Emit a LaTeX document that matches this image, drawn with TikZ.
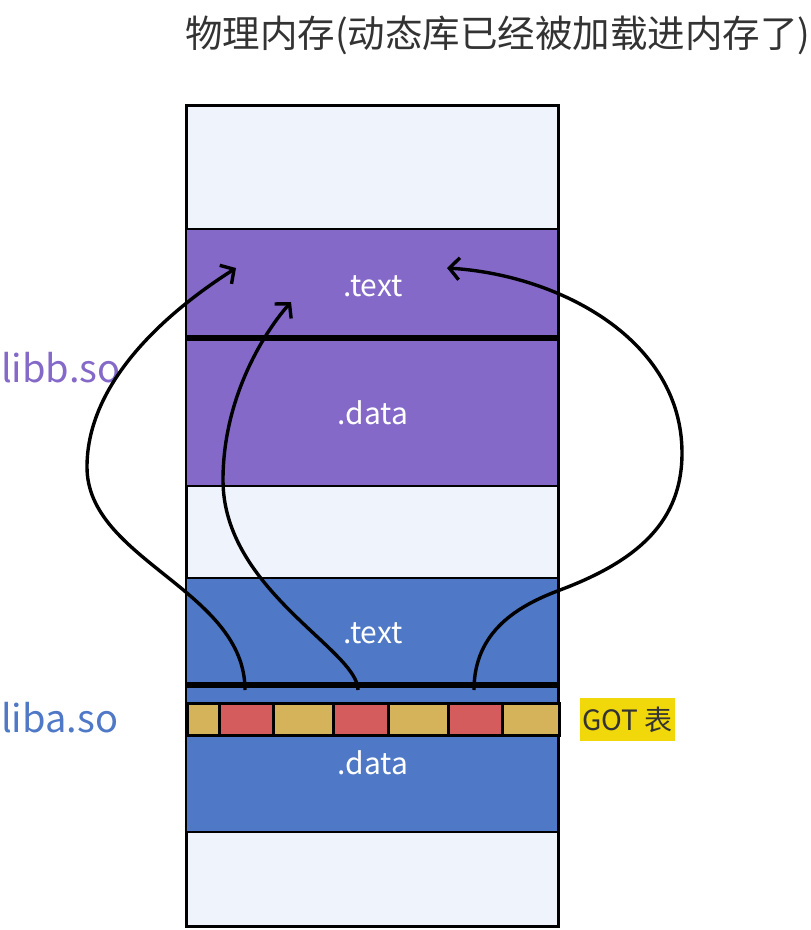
\documentclass[tikz,border=0pt]{standalone}
\usepackage{fontspec}
\setmainfont{Noto Sans CJK SC}
\usetikzlibrary{arrows.meta}
\definecolor{bgmem}{HTML}{EEF3FC}
\definecolor{libbc}{HTML}{8469C9}
\definecolor{libac}{HTML}{4F78C6}
\definecolor{gotY}{HTML}{D4B35A}
\definecolor{gotR}{HTML}{D45C5C}
\definecolor{lblY}{HTML}{F1D80A}
\definecolor{txtD}{HTML}{333333}
\tikzset{
  seg/.style={line width=2.5pt, draw=black},
  sep/.style={line width=6.5pt, draw=black},
  secname/.style={text=white, font=\fontsize{30}{34}\selectfont, inner sep=0pt},
  libname/.style={font=\fontsize{38}{42}\selectfont, inner sep=0pt, anchor=west},
  gotcell/.style={draw=black, line width=3pt, minimum height=32pt, inner sep=0pt, anchor=north west},
  link/.style={line width=3.4pt, -{Straight Barb[length=10pt,width=22pt,line width=3.4pt]}}
}
\begin{document}
\begin{tikzpicture}[x=1pt,y=-1pt]
\useasboundingbox (0,0) rectangle (811,930);
% memory box
\draw[fill=bgmem, line width=3pt] (186,105) rectangle (558,926);
% libb
\draw[seg, fill=libbc] (186,229) rectangle (558,486);
\draw[sep] (186,338) -- (558,338);
% liba
\draw[seg, fill=libac] (186,578) rectangle (558,832);
\draw[sep] (186,685) -- (558,685);
% GOT cells
\node[gotcell, fill=gotY, minimum width=32pt] (g1) at (186,702) {};
\node[gotcell, fill=gotR, minimum width=54pt] (g2) at (218,702) {};
\node[gotcell, fill=gotY, minimum width=60pt] (g3) at (272,702) {};
\node[gotcell, fill=gotR, minimum width=55pt] (g4) at (332,702) {};
\node[gotcell, fill=gotY, minimum width=60pt] (g5) at (387,702) {};
\node[gotcell, fill=gotR, minimum width=54pt] (g6) at (447,702) {};
\node[gotcell, fill=gotY, minimum width=57pt] (g7) at (501,702) {};
% texts
\node[font=\fontsize{37.5}{42}\selectfont, anchor=west, inner sep=0pt, text=txtD] (title) at (185,35) {物理内存(动态库已经被加载进内存了)};
\node[secname] (btext) at (373,286) {.text};
\node[secname] (bdata) at (373,413) {.data};
\node[secname] (atext) at (373,633) {.text};
\node[secname] (adata) at (373,763) {.data};
\node[libname, text=libbc] (libb) at (1,368) {libb.so};
\node[libname, text=libac] (liba) at (1,718) {liba.so};
\node[fill=lblY, text=txtD, font=\fontsize{28}{32}\selectfont, minimum width=95pt, minimum height=43pt, inner sep=0pt] (gotlbl) at (627.5,719.5) {GOT 表};
% connectors
\coordinate (s1) at (245,690);
\coordinate (s2) at (358,690);
\coordinate (s3) at (474,690);
\coordinate (t1) at (236,268);
\coordinate (t2) at (291,302);
\coordinate (t3) at (447,268);
\draw[link] (s1) .. controls (245,590) and (87,560) .. (87,467) .. controls (87,380) and (170,310) .. (t1);
\draw[link] (s2) .. controls (358,650) and (223,590) .. (223,480) .. controls (223,400) and (262,335) .. (t2);
\draw[link] (s3) .. controls (474,630) and (520,605) .. (560,590) .. controls (640,560) and (682,520) .. (682,453) .. controls (682,340) and (560,275) .. (t3);
\end{tikzpicture}
\end{document}
